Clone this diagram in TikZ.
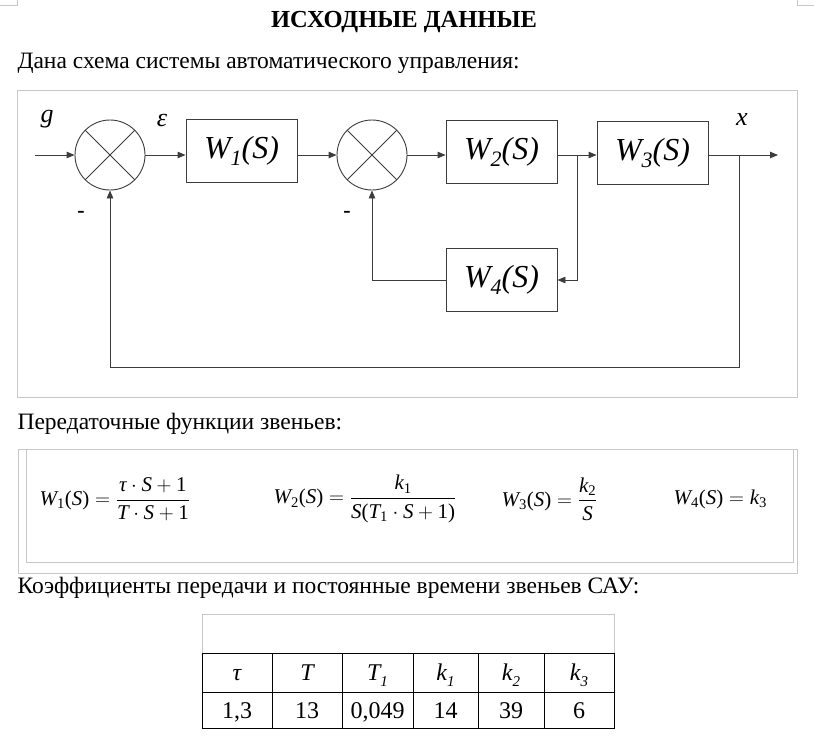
\documentclass[tikz,border=0pt]{standalone}
\usepackage{fontspec}
\setmainfont{Liberation Serif}
\usepackage{amsmath}
\usetikzlibrary{arrows.meta,positioning}
\definecolor{linegray}{RGB}{60,60,60}
\definecolor{framegray}{RGB}{200,200,200}
\newcommand{\vv}[1]{\text{\itshape #1}}
\newcommand{\wlabel}[1]{W\raisebox{-0.22em}{\fontsize{22}{22}\selectfont #1}(S)}
\newcommand{\tsub}[2]{\itshape #1\raisebox{-0.25em}{\fontsize{15}{15}\selectfont #2}}

\begin{document}
\begin{tikzpicture}[x=1pt,y=-1pt,
    sumnode/.style={circle,draw=linegray,line width=0.9pt,minimum size=70pt,inner sep=0pt,
      path picture={\draw[linegray,line width=0.9pt]
        (path picture bounding box.south west) -- (path picture bounding box.north east)
        (path picture bounding box.north west) -- (path picture bounding box.south east);}},
    blockbox/.style={draw=linegray,line width=0.9pt,minimum width=111pt,minimum height=63pt,
      inner sep=0pt,font=\fontsize{32}{32}\selectfont\itshape},
    sig/.style={draw=linegray,line width=0.9pt,-{Triangle[length=8pt,width=6.5pt]}},
    frame/.style={draw=framegray,line width=0.8pt},
    lbl/.style={font=\fontsize{26}{26}\selectfont\itshape},
    heading/.style={anchor=west,font=\fontsize{23.5}{23.5}\selectfont},
    formula/.style={anchor=west,font=\fontsize{21}{21}\selectfont},
    cell/.style={anchor=base,font=\fontsize{24}{24}\selectfont}]
  \useasboundingbox[fill=white] (0,0) rectangle (821,737);

  % page corner marks
  \draw[frame] (0,5) -- (17,5) -- (17,0);
  \draw[frame] (797,0) -- (797,5) -- (814,5);

  % headings
  \node[font=\fontsize{24.5}{24.5}\selectfont\bfseries] (title) at (404,22) {ИСХОДНЫЕ ДАННЫЕ};
  \node[heading] (intro) at (14,63) {Дана схема системы автоматического управления:};

  % block diagram
  \draw[frame] (17,90) rectangle (797,397);
  \node[sumnode] (sum1) at (110,155) {};
  \node[sumnode] (sum2) at (372,155) {};
  \node[blockbox] (w1) at (241.5,151) {\wlabel{1}};
  \node[blockbox] (w2) at (501.5,151.5) {\wlabel{2}};
  \node[blockbox] (w3) at (652.5,153) {\wlabel{3}};
  \node[blockbox] (w4) at (501.5,280) {\wlabel{4}};
  \coordinate (in) at (35,155);
  \coordinate (out) at (778,155);
  \coordinate (b1) at (577,155);
  \coordinate (b2) at (739,155);
  \coordinate (fb) at (739,367);

  \draw[sig] (in) -- (sum1);
  \draw[sig] (sum1) -- (sum1 -| w1.west);
  \draw[sig] (sum2 -| w1.east) -- (sum2);
  \draw[sig] (sum2) -- (sum2 -| w2.west);
  \draw[sig] (sum2 -| w2.east) -- (sum2 -| w3.west);
  \draw[sig] (sum2 -| w3.east) -- (out);
  \draw[sig] (b1) |- (w4.east);
  \draw[sig] (w4.west) -| (sum2.south);
  \draw[sig] (b2) -- (fb) -| (sum1.south);

  \node[lbl] (g) at (47,119) {g};
  \node[lbl] (eps) at (162,120) {ε};
  \node[lbl] (x) at (742,120) {x};
  \node[font=\fontsize{22}{22}\selectfont\bfseries] (m1) at (81,214) {-};
  \node[font=\fontsize{22}{22}\selectfont\bfseries] (m2) at (347,214) {-};

  % transfer functions
  \node[heading] (tf) at (14,424) {Передаточные функции звеньев:};
  \draw[frame] (18,449) rectangle (797,573);
  \draw[frame] (26,449) rectangle (793,562);
  \node[formula] (f1) at (36,499)
    {$\vv{W}_{\text{1}}\text{(}\vv{S}\text{)} = \dfrac{\vv{τ}\cdot\vv{S}+\text{1}}{\vv{T}\cdot\vv{S}+\text{1}}$};
  \node[formula] (f2) at (270,499)
    {$\vv{W}_{\text{2}}\text{(}\vv{S}\text{)} = \dfrac{\vv{k}_{\text{1}}}{\vv{S}\text{(}\vv{T}_{\text{1}}\cdot\vv{S}+\text{1)}}$};
  \node[formula] (f3) at (498,499)
    {$\vv{W}_{\text{3}}\text{(}\vv{S}\text{)} = \dfrac{\vv{k}_{\text{2}}}{\vv{S}}$};
  \node[formula] (f4) at (670,499)
    {$\vv{W}_{\text{4}}\text{(}\vv{S}\text{)} = \vv{k}_{\text{3}}$};

  % coefficients table
  \node[heading] (coef) at (14,588) {Коэффициенты передачи и постоянные времени звеньев САУ:};
  \draw[frame] (202,614) rectangle (614,653);
  \draw[black,line width=0.9pt] (202,653) rectangle (614,728) (202,692) -- (614,692);
  \foreach \cx in {272,342,413,478,544}
    \draw[black,line width=0.9pt] (\cx,653) -- (\cx,728);
  \foreach \cx/\hd/\vl in {237/{\itshape τ}/{1,3}, 307/{\itshape T}/13, 377.5/{\tsub{T}{1}}/{0,049},
      445.5/{\tsub{k}{1}}/14, 511/{\tsub{k}{2}}/39, 579/{\tsub{k}{3}}/6}
  {
    \node[cell] at (\cx,680) {\hd};
    \node[cell] at (\cx,718) {\vl};
  }
\end{tikzpicture}
\end{document}
